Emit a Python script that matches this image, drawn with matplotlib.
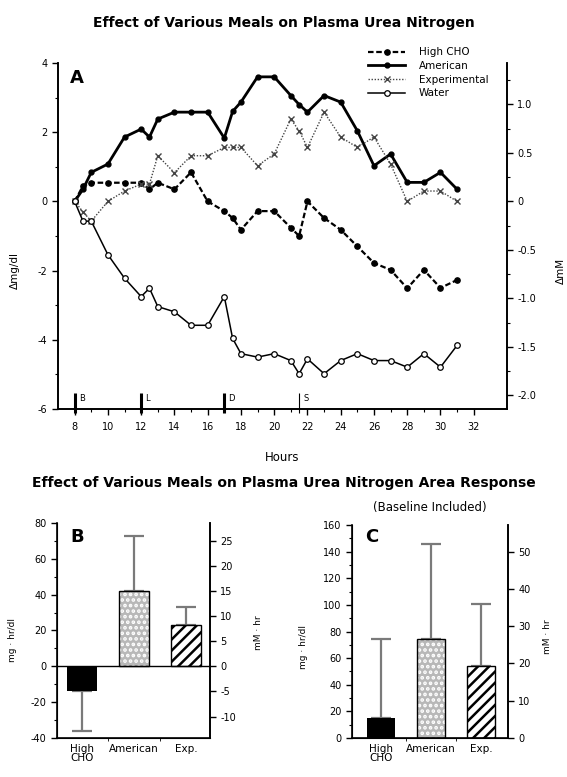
import matplotlib
matplotlib.use("Agg")
import matplotlib.pyplot as plt
from matplotlib.ticker import MultipleLocator, FixedLocator

plt.rcParams['font.family'] = ['DejaVu Sans']
plt.rcParams['axes.unicode_minus'] = False
plt.rcParams['hatch.linewidth'] = 1.8

# panel A: change in plasma urea nitrogen (mg/dl) over the day
hours = [8, 8.5, 9, 10, 11, 12, 12.5, 13, 14, 15, 16, 17, 17.5, 18, 19, 20,
         21, 21.5, 22, 23, 24, 25, 26, 27, 28, 29, 30, 31]
high_cho = [0, 0.45, 0.54, 0.54, 0.54, 0.54, 0.35, 0.54, 0.35, 0.84, 0.0, -0.28,
            -0.48, -0.82, -0.28, -0.28, -0.76, -1.0, 0.0, -0.48, -0.82, -1.3,
            -1.78, -1.98, -2.51, -1.98, -2.5, -2.27]
american = [0, 0.35, 0.84, 1.08, 1.86, 2.09, 1.86, 2.38, 2.58, 2.58, 2.58, 1.83,
            2.6, 2.87, 3.6, 3.6, 3.06, 2.8, 2.58, 3.06, 2.87, 2.04, 1.03, 1.37,
            0.55, 0.55, 0.84, 0.35]
experimental = [0, -0.3, -0.57, 0.0, 0.3, 0.5, 0.5, 1.32, 0.83, 1.32, 1.32, 1.56,
                1.56, 1.56, 1.03, 1.37, 2.38, 2.04, 1.56, 2.58, 1.86, 1.56, 1.86,
                1.08, 0.0, 0.3, 0.3, 0.0]
water = [0, -0.57, -0.57, -1.54, -2.22, -2.75, -2.51, -3.04, -3.19, -3.58, -3.58,
         -2.75, -3.96, -4.4, -4.5, -4.4, -4.6, -4.98, -4.55, -4.98, -4.6, -4.4,
         -4.6, -4.6, -4.79, -4.4, -4.79, -4.16]
meal_hours = [8, 12, 17, 21.5]
meal_letters = ['B', 'L', 'D', 'S']

# panels B and C: area response (mg*hr/dl), one-sided error bars
groups = ['High\nCHO', 'American', 'Exp.']
area_b = [-14, 42, 23]
err_b = [22, 31, 10]
area_c = [15, 74, 54]
err_c = [59, 72, 47]

MM_PER_MGDL = 0.357
TICK_FS = 7

fig = plt.figure(figsize=(5.67, 7.77), dpi=100)

fig.text(0.5, 1 - 23 / 777, "Effect of Various Meals on Plasma Urea Nitrogen",
         ha='center', va='center', fontsize=10, fontweight='bold')

# ---------------- panel A ----------------
axA = fig.add_axes([0.1023, 0.4736, 0.7919, 0.4453])
axA.plot(hours, high_cho, color='black', lw=1.6, ls=(0, (2.5, 1.2)), marker='o',
         ms=3.8, mfc='black', label='High CHO')
axA.plot(hours, american, color='black', lw=2.0, marker='o', ms=3.5,
         mfc='black', label='American')
axA.plot(hours, experimental, color='#444444', lw=1.0, ls=(0, (1, 1.2)), marker='x',
         ms=4, mew=1.0, label='Experimental')
axA.plot(hours, water, color='black', lw=1.1, marker='o', ms=4, mfc='white',
         mew=0.9, label='Water')

for t, letter in zip(meal_hours, meal_letters):
    axA.plot([t, t], [-5.55, -6.12], color='black', lw=2.2 if letter != 'S' else 0.8,
             clip_on=False, solid_capstyle='butt')
    axA.text(t + 0.25, -5.7, letter, fontsize=6, va='center', ha='left')

axA.set_xlim(7, 34)
axA.set_ylim(-6, 4)
axA.xaxis.set_major_locator(FixedLocator(range(8, 33, 2)))
axA.xaxis.set_minor_locator(FixedLocator(range(9, 33, 2)))
axA.yaxis.set_major_locator(MultipleLocator(2))
axA.yaxis.set_minor_locator(MultipleLocator(1))
axA.tick_params(labelsize=TICK_FS, length=4, width=1)
axA.tick_params(axis='x', pad=5)
axA.tick_params(which='minor', length=2.5, width=0.8)
axA.spines['top'].set_visible(False)
axA.set_xlabel('Hours', fontsize=8.5)
axA.xaxis.set_label_coords(0.5, -0.12)
axA.set_ylabel('Δmg/dl', fontsize=7.5)
axA.yaxis.set_label_coords(-0.085, 0.40)
axA.text(0.042, 0.957, 'A', transform=axA.transAxes, fontsize=13,
         fontweight='bold', ha='center', va='center')

axA2 = axA.twinx()
axA2.set_ylim(-6 * MM_PER_MGDL, 4 * MM_PER_MGDL)
axA2.set_yticks([-2.0, -1.5, -1.0, -0.5, 0, 0.5, 1.0])
axA2.set_yticklabels(['-2.0', '-1.5', '-1.0', '-0.5', '0', '0.5', '1.0'])
axA2.yaxis.set_minor_locator(MultipleLocator(0.25))
axA2.tick_params(labelsize=TICK_FS, length=4, width=1)
axA2.tick_params(which='minor', length=2.5, width=0.8)
axA2.spines['top'].set_visible(False)
axA2.set_ylabel('ΔmM', fontsize=7.5)
axA2.yaxis.set_label_coords(1.11, 0.40)

axA.legend(loc='upper left', bbox_to_anchor=(0.69, 1.045), frameon=False,
           fontsize=7.5, handlelength=3.6, handletextpad=1.3, labelspacing=0.35,
           borderpad=0, borderaxespad=0)

for ax in (axA, axA2):
    for s in ax.spines.values():
        s.set_linewidth(1.2)

# ---------------- panels B and C ----------------
fig.text(0.5, 1 - 483 / 777,
         "Effect of Various Meals on Plasma Urea Nitrogen Area Response",
         ha='center', va='center', fontsize=10, fontweight='bold')
fig.text(430 / 567, 1 - 508 / 777, "(Baseline Included)", ha='center',
         va='center', fontsize=8.5)


def draw_bars(ax, values, errs, width):
    xs = range(len(values))
    lower = [e if v < 0 else 0 for v, e in zip(values, errs)]
    upper = [e if v >= 0 else 0 for v, e in zip(values, errs)]
    ax.errorbar(xs, values, yerr=[lower, upper], fmt='none', ecolor='#7a7a7a',
                elinewidth=1.6, capsize=7, capthick=1.6, zorder=1)
    # High CHO: solid black
    ax.bar(0, values[0], width, color='black', zorder=2)
    # American: stippled grey
    ax.bar(1, values[1], width, color='#b8b8b8', edgecolor='white', hatch='...',
           lw=0, zorder=2)
    ax.bar(1, values[1], width, fill=False, edgecolor='black', lw=1, zorder=3)
    # Exp.: diagonal stripes
    ax.bar(2, values[2], width, color='white', edgecolor='black', hatch='///',
           lw=0, zorder=2)
    ax.bar(2, values[2], width, fill=False, edgecolor='black', lw=1, zorder=3)
    ax.set_xticks(list(xs))
    ax.set_xticklabels(groups, fontsize=7.5, linespacing=0.95)
    ax.xaxis.set_minor_locator(FixedLocator([0.5, 1.5]))
    ax.tick_params(axis='x', which='major', length=0, pad=4)
    ax.tick_params(axis='x', which='minor', length=2.5)
    ax.tick_params(axis='y', labelsize=TICK_FS, length=4, width=1)
    ax.tick_params(axis='y', which='minor', length=2.5, width=0.8)
    ax.spines['top'].set_visible(False)
    for s in ax.spines.values():
        s.set_linewidth(1.2)


axB = fig.add_axes([0.1005, 0.0502, 0.2698, 0.2767])
draw_bars(axB, area_b, err_b, 0.56)
axB.axhline(0, color='black', lw=1.0, zorder=4)
axB.set_xlim(-0.48, 2.46)
axB.set_ylim(-40, 80)
axB.yaxis.set_major_locator(MultipleLocator(20))
axB.yaxis.set_minor_locator(MultipleLocator(10))
axB.set_ylabel('mg · hr/dl', fontsize=6.5)
axB.yaxis.set_label_coords(-0.26, 0.456)
axB.text(0.13, 0.935, 'B', transform=axB.transAxes, fontsize=13,
         fontweight='bold', ha='center', va='center')
axB2 = axB.twinx()
axB2.set_ylim(-40 * MM_PER_MGDL, 80 * MM_PER_MGDL)
axB2.yaxis.set_major_locator(MultipleLocator(5))
axB2.tick_params(labelsize=TICK_FS, length=4, width=1)
axB2.spines['top'].set_visible(False)
axB2.spines['right'].set_linewidth(1.2)
axB2.set_ylabel('mM · hr', fontsize=6.5)
axB2.yaxis.set_label_coords(1.29, 0.49)

axC = fig.add_axes([0.6208, 0.0502, 0.2751, 0.2741])
draw_bars(axC, area_c, err_c, 0.56)
axC.set_xlim(-0.58, 2.54)
axC.set_ylim(0, 160)
axC.yaxis.set_major_locator(MultipleLocator(20))
axC.yaxis.set_minor_locator(MultipleLocator(10))
axC.set_ylabel('mg · hr/dl', fontsize=6.5)
axC.yaxis.set_label_coords(-0.28, 0.427)
axC.text(0.128, 0.944, 'C', transform=axC.transAxes, fontsize=13,
         fontweight='bold', ha='center', va='center')
axC2 = axC.twinx()
axC2.set_ylim(0, 160 * MM_PER_MGDL)
axC2.yaxis.set_major_locator(MultipleLocator(10))
axC2.tick_params(labelsize=TICK_FS, length=4, width=1)
axC2.spines['top'].set_visible(False)
axC2.spines['right'].set_linewidth(1.2)
axC2.set_ylabel('mM · hr', fontsize=6.5)
axC2.yaxis.set_label_coords(1.224, 0.474)

fig.savefig('out.png', dpi=100)
